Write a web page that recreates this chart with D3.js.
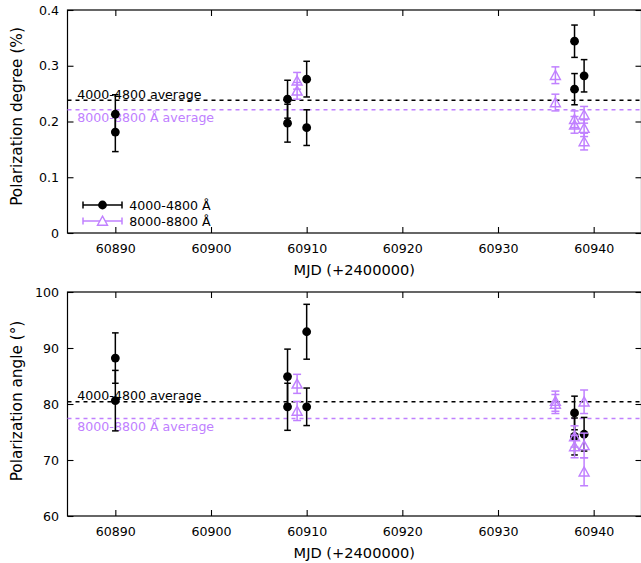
<!DOCTYPE html>
<html>
<head>
<meta charset="utf-8">
<script src="https://cdn.jsdelivr.net/npm/d3@7"></script>
<style>
  html, body { margin: 0; padding: 0; background: #fff; }
  svg { display: block; font-family: "DejaVu Sans", sans-serif; }
</style>
</head>
<body>
<svg id="chart" width="641" height="563"></svg>
<script>
// ---------- DATA ----------
const seriesNames = ["4000-4800 Å", "8000-8800 Å"];
const avgLabels = ["4000-4800 average", "8000-8800 Å average"];

const xTicks = [60890, 60900, 60910, 60920, 60930, 60940];
const degTicks = [0, 0.1, 0.2, 0.3, 0.4];
const angTicks = [60, 70, 80, 90, 100];

// Polarization degree, 4000-4800 Å
const degBlueMjd = [60890, 60890, 60908, 60908, 60910, 60910, 60938, 60938, 60939];
const degBlueVal = [0.213, 0.181, 0.240, 0.197, 0.276, 0.189, 0.344, 0.258, 0.282];
const degBlueErr = [0.035, 0.035, 0.034, 0.034, 0.032, 0.032, 0.029, 0.028, 0.029];
// Polarization degree, 8000-8800 Å
const degRedMjd = [60909, 60909, 60936, 60936, 60938, 60938, 60939, 60939, 60939];
const degRedVal = [0.273, 0.255, 0.283, 0.234, 0.204, 0.194, 0.212, 0.188, 0.164];
const degRedErr = [0.015, 0.015, 0.015, 0.015, 0.015, 0.015, 0.015, 0.015, 0.015];

// Polarization angle, 4000-4800 Å
const angBlueMjd = [60890, 60890, 60908, 60908, 60910, 60910, 60938, 60938, 60939];
const angBlueVal = [88.2, 80.6, 84.9, 79.5, 92.9, 79.5, 78.4, 74.2, 74.6];
const angBlueErr = [4.5, 5.4, 4.9, 4.2, 4.9, 3.35, 3.0, 3.3, 3.0];
// Polarization angle, 8000-8800 Å
const angRedMjd = [60909, 60909, 60936, 60936, 60938, 60938, 60939, 60939, 60939];
const angRedVal = [83.6, 78.75, 80.5, 80.0, 74.2, 72.4, 80.4, 72.6, 67.9];
const angRedErr = [1.7, 1.7, 1.8, 1.7, 1.9, 2.0, 2.1, 2.2, 2.5];

// averages
const degAverages = [0.238, 0.221];
const angAverages = [80.4, 77.4];

// ---------- STYLE ----------
const colors = ["#000000", "#c080ff"];
const tickFont = 12.6;

const svg = d3.select("#chart");
svg.append("rect").attr("width", 641).attr("height", 563).attr("fill", "#fff");

const x = d3.scaleLinear().domain([60885, 60945]).range([67.5, 641.5]);

function zip(m, v, e) { return m.map((d, i) => ({ x: d, y: v[i], e: e[i] })); }

function panel(cfg) {
  const y = d3.scaleLinear().domain(cfg.domain).range([cfg.bottom, cfg.top]);
  const g = svg.append("g");
  const [x0, x1] = x.range();

  // axes (inward ticks, mirrored)
  const axB = g.append("g").attr("transform", `translate(0,${cfg.bottom})`)
    .call(d3.axisBottom(x).tickValues(xTicks).tickFormat(d3.format("d"))
      .tickSizeInner(-6).tickSizeOuter(0).tickPadding(11.5));
  const axT = g.append("g").attr("transform", `translate(0,${cfg.top})`)
    .call(d3.axisTop(x).tickValues(xTicks).tickFormat("")
      .tickSizeInner(-6).tickSizeOuter(0));
  const axL = g.append("g").attr("transform", `translate(${x0},0)`)
    .call(d3.axisLeft(y).tickValues(cfg.ticks).tickFormat(cfg.fmt)
      .tickSizeInner(-6).tickSizeOuter(0).tickPadding(8.5));
  const axR = g.append("g").attr("transform", `translate(${x1},0)`)
    .call(d3.axisRight(y).tickValues(cfg.ticks).tickFormat("")
      .tickSizeInner(-6).tickSizeOuter(0));
  [axB, axT, axL, axR].forEach(a => {
    a.select(".domain").remove();
    a.selectAll("line").attr("stroke", "#000").attr("stroke-width", 1.1);
    a.selectAll("text").attr("font-size", tickFont).attr("fill", "#000")
      .attr("font-family", "DejaVu Sans");
  });

  // frame
  g.append("rect").attr("x", x0).attr("y", cfg.top)
    .attr("width", x1 - x0).attr("height", cfg.bottom - cfg.top)
    .attr("fill", "none").attr("stroke", "#000").attr("stroke-width", 1.2);

  // average lines + labels
  cfg.avgs.forEach((a, i) => {
    g.append("line").attr("x1", x0).attr("x2", x1)
      .attr("y1", y(a)).attr("y2", y(a))
      .attr("stroke", colors[i]).attr("stroke-width", 1.5)
      .attr("stroke-dasharray", "4,4");
    g.append("text").attr("x", 77.3)
      .attr("y", i === 0 ? y(a) - 1.5 : y(a) + 12.5)
      .attr("font-size", tickFont).attr("fill", colors[i])
      .text(avgLabels[i]);
  });

  // error bars + markers
  cfg.series.forEach((data, i) => {
    const c = colors[i];
    const cap = i === 0 ? 3.3 : 4;
    const sg = g.append("g");
    const eb = sg.selectAll(".eb").data(data).join("g");
    eb.append("line").attr("x1", d => x(d.x)).attr("x2", d => x(d.x))
      .attr("y1", d => y(d.y - d.e)).attr("y2", d => y(d.y + d.e))
      .attr("stroke", c).attr("stroke-width", 1.5);
    eb.append("line").attr("x1", d => x(d.x) - cap).attr("x2", d => x(d.x) + cap)
      .attr("y1", d => y(d.y + d.e)).attr("y2", d => y(d.y + d.e))
      .attr("stroke", c).attr("stroke-width", 1.5);
    eb.append("line").attr("x1", d => x(d.x) - cap).attr("x2", d => x(d.x) + cap)
      .attr("y1", d => y(d.y - d.e)).attr("y2", d => y(d.y - d.e))
      .attr("stroke", c).attr("stroke-width", 1.5);
    if (i === 0) {
      sg.selectAll(".m").data(data).join("circle")
        .attr("cx", d => x(d.x)).attr("cy", d => y(d.y)).attr("r", 4.4)
        .attr("fill", c);
    } else {
      sg.selectAll(".m").data(data).join("path")
        .attr("d", "M0,-4.8L5,4.2L-5,4.2Z")
        .attr("transform", d => `translate(${x(d.x)},${y(d.y)})`)
        .attr("fill", "none").attr("stroke", c).attr("stroke-width", 1.4);
    }
  });

  // titles
  svg.append("text").attr("x", 354.3).attr("y", cfg.bottom + 42)
    .attr("text-anchor", "middle").attr("font-size", 14.6).attr("fill", "#000")
    .text("MJD (+2400000)");
  svg.append("text")
    .attr("transform", `translate(22,${cfg.ycenter}) rotate(-90)`)
    .attr("text-anchor", "middle").attr("font-size", cfg.yTitleSize).attr("fill", "#000")
    .text(cfg.ytitle);
  return { g, y };
}

const p1 = panel({
  top: 10, bottom: 233, domain: [0, 0.4], ticks: degTicks,
  fmt: d => d === 0 ? "0" : d3.format(".1f")(d),
  avgs: degAverages,
  series: [zip(degBlueMjd, degBlueVal, degBlueErr), zip(degRedMjd, degRedVal, degRedErr)],
  ytitle: "Polarization degree (%)", ycenter: 116.5, yTitleSize: 15.3
});

panel({
  top: 292, bottom: 516, domain: [60, 100], ticks: angTicks,
  fmt: d3.format("d"),
  avgs: angAverages,
  series: [zip(angBlueMjd, angBlueVal, angBlueErr), zip(angRedMjd, angRedVal, angRedErr)],
  ytitle: "Polarization angle (°)", ycenter: 401, yTitleSize: 15.3
});

// legend (top panel)
const legY = [205, 221];
const lg = svg.append("g");
seriesNames.forEach((name, i) => {
  const c = colors[i];
  const yy = legY[i];
  lg.append("line").attr("x1", 83).attr("x2", 122).attr("y1", yy).attr("y2", yy)
    .attr("stroke", c).attr("stroke-width", 1.5);
  [83, 122].forEach(xx => lg.append("line").attr("x1", xx).attr("x2", xx)
    .attr("y1", yy - 3.5).attr("y2", yy + 3.5).attr("stroke", c).attr("stroke-width", 1.5));
  if (i === 0) {
    lg.append("circle").attr("cx", 102.5).attr("cy", yy).attr("r", 4.4).attr("fill", c);
  } else {
    lg.append("path").attr("d", "M0,-4.8L5,4.2L-5,4.2Z")
      .attr("transform", `translate(102.5,${yy})`)
      .attr("fill", "#fff").attr("stroke", c).attr("stroke-width", 1.4);
  }
  lg.append("text").attr("x", 129.3).attr("y", yy).attr("dy", "0.36em")
    .attr("font-size", tickFont).attr("fill", "#000").text(name);
});
</script>
</body>
</html>
